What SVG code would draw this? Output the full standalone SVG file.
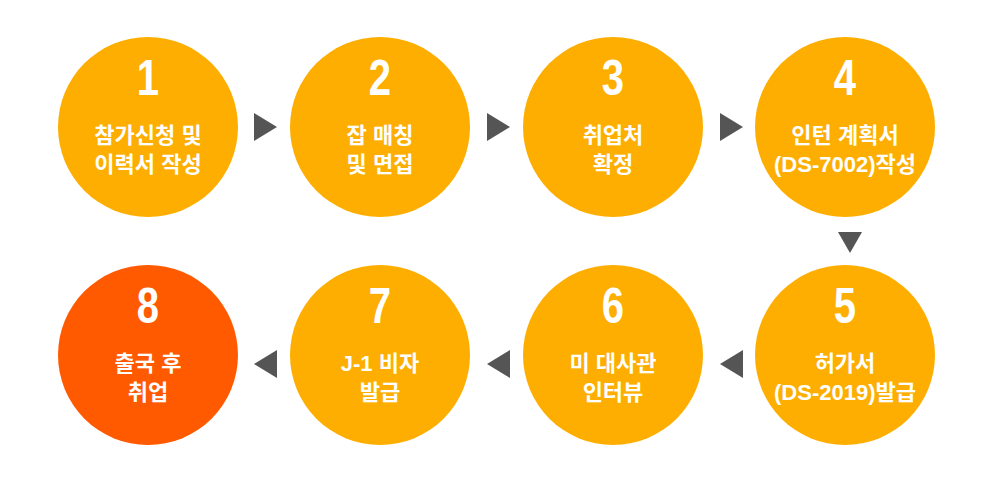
<svg xmlns="http://www.w3.org/2000/svg" width="1000" height="485" viewBox="0 0 1000 485">
<style>
.c{fill:#FEAE00}
.n{font-family:"Liberation Sans",sans-serif;font-weight:bold;font-size:50px;fill:#fff;text-anchor:middle}
.t{font-family:"Liberation Sans","Noto Sans CJK KR",sans-serif;font-weight:bold;font-size:22px;fill:#fff;text-anchor:middle}
.a{fill:#555}
</style>
<rect width="1000" height="485" fill="#fff"/>
<g id="node1"><circle class="c" cx="148" cy="127" r="90"/><text class="n" x="148" y="95" transform="translate(148 0) scale(0.8 1) translate(-148 0)">1</text><text class="t" x="148" y="143">참가신청 및</text><text class="t" x="148" y="172">이력서 작성</text></g>
<g id="node2"><circle class="c" cx="380" cy="127" r="90"/><text class="n" x="380" y="95" transform="translate(380 0) scale(0.8 1) translate(-380 0)">2</text><text class="t" x="380" y="143">잡 매칭</text><text class="t" x="380" y="172">및 면접</text></g>
<g id="node3"><circle class="c" cx="613" cy="127" r="90"/><text class="n" x="613" y="95" transform="translate(613 0) scale(0.8 1) translate(-613 0)">3</text><text class="t" x="613" y="143">취업처</text><text class="t" x="613" y="172">확정</text></g>
<g id="node4"><circle class="c" cx="845" cy="127" r="90"/><text class="n" x="845" y="95" transform="translate(845 0) scale(0.8 1) translate(-845 0)">4</text><text class="t" x="845" y="143">인턴 계획서</text><text class="t" x="845" y="172">(DS-7002)작성</text></g>
<g id="node5"><circle class="c" cx="845" cy="355" r="90"/><text class="n" x="845" y="323" transform="translate(845 0) scale(0.8 1) translate(-845 0)">5</text><text class="t" x="845" y="371">허가서</text><text class="t" x="845" y="400">(DS-2019)발급</text></g>
<g id="node6"><circle class="c" cx="613" cy="355" r="90"/><text class="n" x="613" y="323" transform="translate(613 0) scale(0.8 1) translate(-613 0)">6</text><text class="t" x="613" y="371">미 대사관</text><text class="t" x="613" y="400">인터뷰</text></g>
<g id="node7"><circle class="c" cx="380" cy="355" r="90"/><text class="n" x="380" y="323" transform="translate(380 0) scale(0.8 1) translate(-380 0)">7</text><text class="t" x="380" y="371">J-1 비자</text><text class="t" x="380" y="400">발급</text></g>
<g id="node8"><circle cx="148" cy="355" r="90" fill="#FF5A00"/><text class="n" x="148" y="323" transform="translate(148 0) scale(0.8 1) translate(-148 0)">8</text><text class="t" x="148" y="371">출국 후</text><text class="t" x="148" y="400">취업</text></g>
<g id="connectors">
<polygon class="a" points="254,113 277,127 254,141"/>
<polygon class="a" points="487,113 510,127 487,141"/>
<polygon class="a" points="720,113 743,127 720,141"/>
<polygon class="a" points="838,232 862,232 850,253"/>
<polygon class="a" points="743,350 720,364 743,378"/>
<polygon class="a" points="510,350 487,364 510,378"/>
<polygon class="a" points="277,350 254,364 277,378"/>
</g>
</svg>
